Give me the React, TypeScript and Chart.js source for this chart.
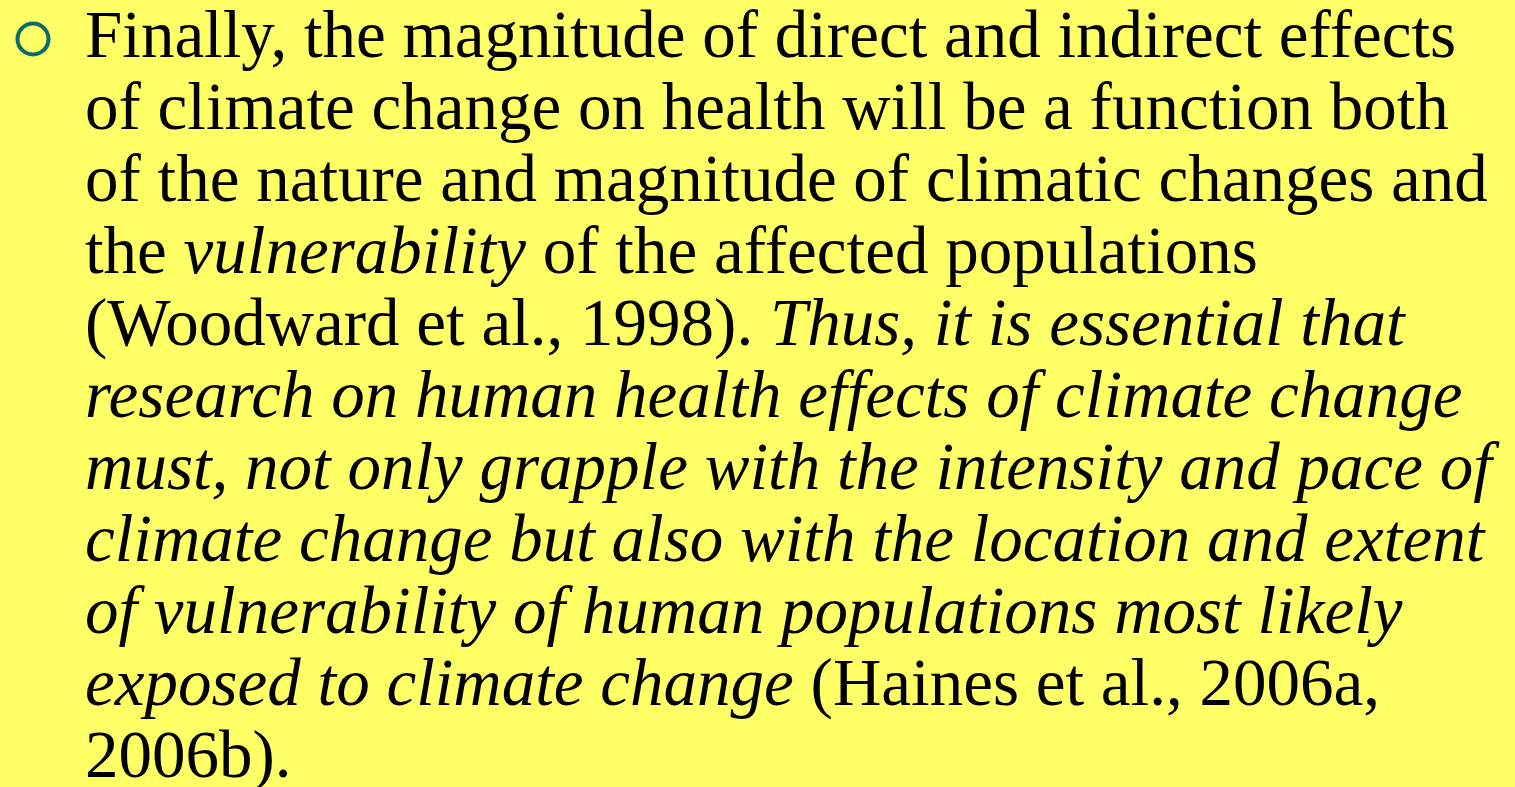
import React, { useEffect, useRef } from "react";
import { Chart, registerables } from "chart.js";

Chart.register(...registerables);

// Bullet marker (single point drawn by Chart.js)
const bulletX = [0];
const bulletY = [0];

// Slide text lines: segments of [text, italic]
const lines: [string, boolean][][] = [
  [["Finally, the magnitude of direct and indirect effects", false]],
  [["of climate change on health will be a function both", false]],
  [["of the nature and magnitude of climatic changes and", false]],
  [["the ", false], ["vulnerability", true], [" of the affected populations", false]],
  [["(Woodward et al., 1998). ", false], ["Thus, it is essential that", true]],
  [["research on human health effects of climate change", true]],
  [["must, not only grapple with the intensity and pace of", true]],
  [["climate change but also with the location and extent", true]],
  [["of vulnerability of human populations most likely", true]],
  [["exposed to climate change", true], [" (Haines et al., 2006a,", false]],
  [["2006b).", false]],
];

export default function App() {
  const ref = useRef<HTMLCanvasElement | null>(null);
  useEffect(() => {
    if (!ref.current) return;
    const chart = new Chart(ref.current, {
      type: "scatter",
      data: {
        datasets: [
          {
            data: bulletX.map((x, i) => ({ x, y: bulletY[i] })),
            pointRadius: 15.5,
            pointBorderWidth: 4,
            pointBorderColor: "#0b6a6a",
            pointBackgroundColor: "rgba(0,0,0,0)",
            pointStyle: "circle",
            clip: false,
          } as any,
        ],
      },
      options: {
        animation: false,
        responsive: false,
        maintainAspectRatio: false,
        layout: { padding: 0 },
        plugins: { legend: { display: false }, tooltip: { enabled: false } },
        scales: {
          x: { display: false, min: -1, max: 1 },
          y: { display: false, min: -1, max: 1 },
        },
      },
    });
    return () => chart.destroy();
  }, []);

  return (
    <div
      style={{
        position: "fixed",
        left: 0,
        top: 0,
        width: 1515,
        height: 787,
        background: "#FFFF66",
        overflow: "hidden",
      }}
    >
      <canvas
        ref={ref}
        width={80}
        height={80}
        style={{ position: "absolute", left: -7, top: -1, width: 80, height: 80 }}
      />
      <div
        style={{
          position: "absolute",
          left: 85,
          top: -2,
          fontFamily: "'Liberation Serif', 'Times New Roman', serif",
          fontSize: 67,
          lineHeight: "72px",
          color: "#000",
          whiteSpace: "nowrap",
        }}
      >
        {lines.map((segs, i) => (
          <div key={i}>
            {segs.map(([t, it], j) => (
              <span key={j} style={{ fontStyle: it ? "italic" : "normal" }}>
                {t}
              </span>
            ))}
          </div>
        ))}
      </div>
    </div>
  );
}
